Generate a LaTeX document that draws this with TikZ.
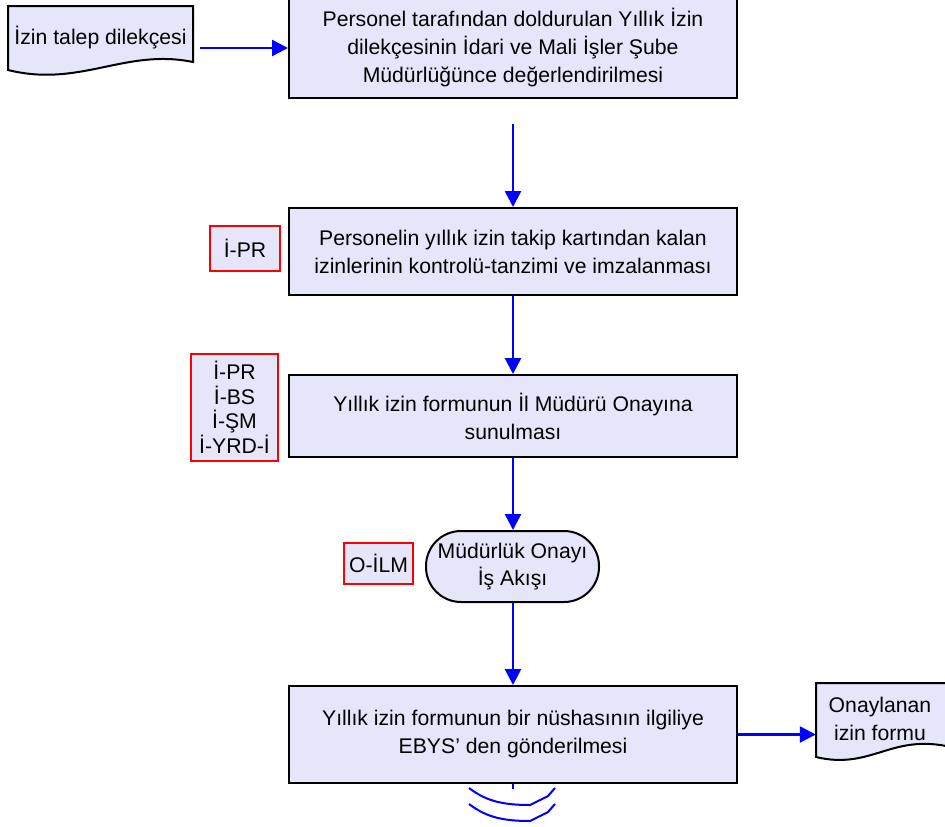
\documentclass[tikz,border=0pt]{standalone}
\usepackage{fontspec}
\setmainfont{Liberation Sans}
\usetikzlibrary{arrows.meta}
\definecolor{lav}{RGB}{230,230,250}
\definecolor{arrblue}{RGB}{0,0,255}
\tikzset{
  procbox/.style={draw=black, line width=2pt, fill=lav, minimum width=448pt, align=center, inner sep=0pt,
    font=\fontsize{21.2}{28}\selectfont},
  refbox/.style={draw=red, line width=2pt, fill=lav, align=center, inner sep=0pt,
    font=\fontsize{21.2}{24.5}\selectfont},
  termbox/.style={draw=black, line width=2pt, fill=lav, rounded corners=35pt, align=center, inner sep=0pt,
    minimum width=173pt, minimum height=71pt, font=\fontsize{21.2}{27}\selectfont},
  doctext/.style={align=center, inner sep=0pt, font=\fontsize{21.2}{28}\selectfont},
  docshape/.style={draw=black, line width=2pt, fill=lav},
  arr/.style={draw=arrblue, line width=2.5pt, -{Triangle[length=16pt,width=16pt]}},
  bline/.style={draw=arrblue, line width=2.5pt},
}
\begin{document}
\begin{tikzpicture}[x=1pt,y=-1pt]
\useasboundingbox (0,0) rectangle (945,827);
% document shape 1
\draw[docshape] (8,6) -- (193,6) -- (193,62) .. controls (125,48) and (80,88) .. (8,70) -- cycle;
\node[doctext, minimum width=185pt, minimum height=64pt] (d1) at (100.5,38) {İzin talep dilekçesi};
% main boxes
\node[procbox, minimum height=100pt] (b1) at (513,48) {Personel tarafından doldurulan Yıllık İzin\\dilekçesinin İdari ve Mali İşler Şube\\Müdürlüğünce değerlendirilmesi};
\node[procbox, minimum height=87pt] (b2) at (513,251.5) {Personelin yıllık izin takip kartından kalan\\izinlerinin kontrolü-tanzimi ve imzalanması};
\node[procbox, minimum height=82pt] (b3) at (513,416) {Yıllık izin formunun İl Müdürü Onayına\\sunulması};
\node[termbox] (t4) at (512.5,566.5) {Müdürlük Onayı\\İş Akışı};
\node[procbox, minimum height=97pt] (b5) at (513,734.5) {Yıllık izin formunun bir nüshasının ilgiliye\\EBYS’ den gönderilmesi};
% reference boxes
\node[refbox, minimum width=70pt, minimum height=45pt] (r2) at (245,248.5) {İ-PR};
\node[refbox, minimum width=87pt, minimum height=107pt] (r3) at (234.5,407.5) {İ-PR\\İ-BS\\İ-ŞM\\İ-YRD-İ};
\node[refbox, minimum width=69pt, minimum height=41pt] (r4) at (378.5,563.5) {O-İLM};
% document shape 2
\draw[docshape] (816,683) -- (946,683) -- (946,746) .. controls (890,735) and (870,770) .. (816,757) -- cycle;
\node[doctext, minimum width=128pt, minimum height=74pt] (d2) at (880,719) {Onaylanan\\izin formu};
% connectors
\coordinate (s1) at (513,124);
\coordinate (e5) at (513,789);
\draw[arr] ([xshift=7pt]d1.east |- b1.west) -- (b1.west);
\draw[arr] (s1) -- (b2.north);
\draw[arr] (b2.south) -- (b3.north);
\draw[arr] (b3.south) -- (b3.south |- t4.north);
\draw[arr] (b3.south |- t4.south) -- (b5.north);
\draw[arr] (b5.east) -- (b5.east -| d2.west);
\draw[bline] (b5.south) -- (e5);
% continuation arcs
\draw[bline, line width=2pt] (469,788) .. controls (485,800) and (500,805) .. (530,805) -- (548,796) -- (555,788);
\draw[bline, line width=2pt] (469,804) .. controls (485,816) and (500,821) .. (530,821) -- (548,812) -- (555,804);
\end{tikzpicture}
\end{document}
